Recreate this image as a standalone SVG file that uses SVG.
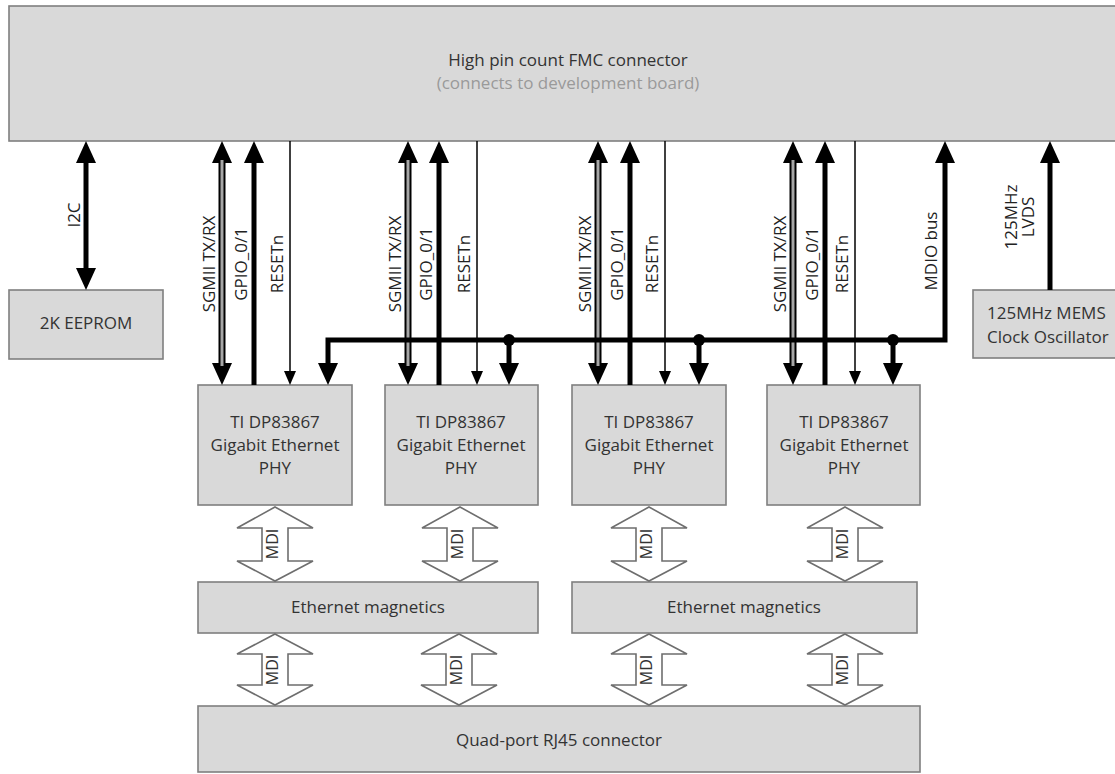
<svg xmlns="http://www.w3.org/2000/svg" width="1115" height="774" viewBox="0 0 1115 774">
  <style>
    .box { fill: #d9d9d9; stroke: #7f7f7f; stroke-width: 1.6; }
    .t { font-family: "Open Sans", "Liberation Sans", sans-serif; font-size: 17px; fill: #333; text-anchor: middle; }
    .sub { fill: #9a9a9a; }
    .start { text-anchor: start; }
    .lbl { font-family: "Open Sans", "Liberation Sans", sans-serif; font-size: 17px; fill: #222; text-anchor: middle; }
    .mdi { font-family: "Open Sans", "Liberation Sans", sans-serif; font-size: 16px; fill: #333; text-anchor: middle; }
    .thick { stroke: #000; stroke-width: 5; fill: none; }
    .bus { stroke: #000; stroke-width: 5; fill: none; stroke-linejoin: miter; }
    .dbl-out { stroke: #000; stroke-width: 7; fill: none; }
    .dbl-in { stroke: #a6a6a6; stroke-width: 3; fill: none; }
    .thin { stroke: #000; stroke-width: 1.5; fill: none; }
    .blk { fill: #fff; stroke: #6e6e6e; stroke-width: 1.6; }
  </style>
  <defs>
    <!-- heads are drawn from the line end outward (refX at the base) -->
    <marker id="head" viewBox="0 0 22 20" markerWidth="22" markerHeight="20" refX="0" refY="10" orient="auto-start-reverse" markerUnits="userSpaceOnUse">
      <path d="M0,0 L22,10 L0,20 Z" fill="#000"/>
    </marker>
    <marker id="head-s" viewBox="0 0 14 12" markerWidth="14" markerHeight="12" refX="0" refY="6" orient="auto" markerUnits="userSpaceOnUse">
      <path d="M0,0 L14,6 L0,12 Z" fill="#000"/>
    </marker>
  </defs>

  <!-- FMC connector -->
  <g id="fmc">
    <rect class="box" x="9" y="6" width="1120" height="135"/>
    <text class="t" x="568" y="66">High pin count FMC connector</text>
    <text class="t sub" x="568" y="89">(connects to development board)</text>
  </g>

  <g id="eeprom">
    <rect class="box" x="9" y="290" width="154" height="69"/>
    <text class="t" x="86" y="329">2K EEPROM</text>
  </g>

  <g id="oscillator">
    <rect class="box" x="973" y="290" width="170" height="68"/>
    <text class="t start" x="987" y="319">125MHz MEMS</text>
    <text class="t start" x="987" y="343">Clock Oscillator</text>
  </g>

  <g id="phy1">
    <rect class="box" x="198" y="385" width="154" height="120"/>
    <text class="t" x="275" y="428">TI DP83867</text>
    <text class="t" x="275" y="451">Gigabit Ethernet</text>
    <text class="t" x="275" y="474">PHY</text>
  </g>
  <g id="phy2">
    <rect class="box" x="385" y="385" width="153" height="120"/>
    <text class="t" x="461" y="428">TI DP83867</text>
    <text class="t" x="461" y="451">Gigabit Ethernet</text>
    <text class="t" x="461" y="474">PHY</text>
  </g>
  <g id="phy3">
    <rect class="box" x="572" y="385" width="154" height="120"/>
    <text class="t" x="649" y="428">TI DP83867</text>
    <text class="t" x="649" y="451">Gigabit Ethernet</text>
    <text class="t" x="649" y="474">PHY</text>
  </g>
  <g id="phy4">
    <rect class="box" x="767" y="385" width="153" height="120"/>
    <text class="t" x="844" y="428">TI DP83867</text>
    <text class="t" x="844" y="451">Gigabit Ethernet</text>
    <text class="t" x="844" y="474">PHY</text>
  </g>

  <g id="magnetics1">
    <rect class="box" x="198" y="582" width="340" height="51"/>
    <text class="t" x="368" y="613">Ethernet magnetics</text>
  </g>
  <g id="magnetics2">
    <rect class="box" x="572" y="582" width="345" height="51"/>
    <text class="t" x="744" y="613">Ethernet magnetics</text>
  </g>

  <g id="rj45">
    <rect class="box" x="198" y="706" width="722" height="66"/>
    <text class="t" x="559" y="746">Quad-port RJ45 connector</text>
  </g>

  <g id="connectors">
    <!-- I2C -->
    <line class="thick" x1="86" y1="163" x2="86" y2="268" marker-start="url(#head)" marker-end="url(#head)"/>
    <text class="lbl" x="80" y="215" transform="rotate(-90 80 215)">I2C</text>

    <!-- SGMII (double line) -->
    <g>
      <line class="dbl-out" x1="222" y1="163" x2="222" y2="363" marker-start="url(#head)" marker-end="url(#head)"/>
      <line class="dbl-in" x1="222" y1="160" x2="222" y2="366"/>
      <line class="dbl-out" x1="408" y1="163" x2="408" y2="363" marker-start="url(#head)" marker-end="url(#head)"/>
      <line class="dbl-in" x1="408" y1="160" x2="408" y2="366"/>
      <line class="dbl-out" x1="598" y1="163" x2="598" y2="363" marker-start="url(#head)" marker-end="url(#head)"/>
      <line class="dbl-in" x1="598" y1="160" x2="598" y2="366"/>
      <line class="dbl-out" x1="793" y1="163" x2="793" y2="363" marker-start="url(#head)" marker-end="url(#head)"/>
      <line class="dbl-in" x1="793" y1="160" x2="793" y2="366"/>
    </g>

    <!-- GPIO_0/1 -->
    <line class="thick" x1="254" y1="385" x2="254" y2="163" marker-end="url(#head)"/>
    <line class="thick" x1="439" y1="385" x2="439" y2="163" marker-end="url(#head)"/>
    <line class="thick" x1="630" y1="385" x2="630" y2="163" marker-end="url(#head)"/>
    <line class="thick" x1="825" y1="385" x2="825" y2="163" marker-end="url(#head)"/>

    <!-- RESETn -->
    <line class="thin" x1="290" y1="141" x2="290" y2="371" marker-end="url(#head-s)"/>
    <line class="thin" x1="477" y1="141" x2="477" y2="371" marker-end="url(#head-s)"/>
    <line class="thin" x1="665" y1="141" x2="665" y2="371" marker-end="url(#head-s)"/>
    <line class="thin" x1="855" y1="141" x2="855" y2="371" marker-end="url(#head-s)"/>

    <!-- MDIO bus -->
    <path class="bus" d="M328,363 L328,340 L945,340 L945,163" marker-start="url(#head)" marker-end="url(#head)"/>
    <line class="thick" x1="509" y1="340" x2="509" y2="363" marker-end="url(#head)"/>
    <line class="thick" x1="699" y1="340" x2="699" y2="363" marker-end="url(#head)"/>
    <line class="thick" x1="893" y1="340" x2="893" y2="363" marker-end="url(#head)"/>
    <circle cx="509" cy="340" r="6" fill="#000"/>
    <circle cx="699" cy="340" r="6" fill="#000"/>
    <circle cx="893" cy="340" r="6" fill="#000"/>

    <!-- 125MHz LVDS clock -->
    <line class="thick" x1="1050" y1="290" x2="1050" y2="163" marker-end="url(#head)"/>

    <!-- signal labels -->
    <text class="lbl" x="215" y="264" transform="rotate(-90 215 264)">SGMII TX/RX</text>
    <text class="lbl" x="247" y="264" transform="rotate(-90 247 264)">GPIO_0/1</text>
    <text class="lbl" x="283" y="264" transform="rotate(-90 283 264)">RESETn</text>
    <text class="lbl" x="401" y="264" transform="rotate(-90 401 264)">SGMII TX/RX</text>
    <text class="lbl" x="432" y="264" transform="rotate(-90 432 264)">GPIO_0/1</text>
    <text class="lbl" x="470" y="264" transform="rotate(-90 470 264)">RESETn</text>
    <text class="lbl" x="591" y="264" transform="rotate(-90 591 264)">SGMII TX/RX</text>
    <text class="lbl" x="623" y="264" transform="rotate(-90 623 264)">GPIO_0/1</text>
    <text class="lbl" x="658" y="264" transform="rotate(-90 658 264)">RESETn</text>
    <text class="lbl" x="786" y="264" transform="rotate(-90 786 264)">SGMII TX/RX</text>
    <text class="lbl" x="818" y="264" transform="rotate(-90 818 264)">GPIO_0/1</text>
    <text class="lbl" x="848" y="264" transform="rotate(-90 848 264)">RESETn</text>
    <text class="lbl" x="937" y="251" transform="rotate(-90 937 251)">MDIO bus</text>
    <text class="lbl" x="1017" y="217" transform="rotate(-90 1017 217)">125MHz</text>
    <text class="lbl" x="1034" y="217" transform="rotate(-90 1034 217)">LVDS</text>

    <!-- MDI block arrows: PHY to magnetics -->
    <path class="blk" d="M275,507 L313,528 L288,528 L288,561 L313,561 L275,581 L237,561 L262,561 L262,528 L237,528 Z"/>
    <path class="blk" d="M460,507 L498,528 L473,528 L473,561 L498,561 L460,581 L422,561 L447,561 L447,528 L422,528 Z"/>
    <path class="blk" d="M649,507 L687,528 L662,528 L662,561 L687,561 L649,581 L611,561 L636,561 L636,528 L611,528 Z"/>
    <path class="blk" d="M845,507 L883,528 L858,528 L858,561 L883,561 L845,581 L807,561 L832,561 L832,528 L807,528 Z"/>
    <!-- MDI block arrows: magnetics to RJ45 -->
    <path class="blk" d="M275,634 L313,654 L288,654 L288,685 L313,685 L275,705 L237,685 L262,685 L262,654 L237,654 Z"/>
    <path class="blk" d="M459,634 L497,654 L472,654 L472,685 L497,685 L459,705 L421,685 L446,685 L446,654 L421,654 Z"/>
    <path class="blk" d="M649,634 L687,654 L662,654 L662,685 L687,685 L649,705 L611,685 L636,685 L636,654 L611,654 Z"/>
    <path class="blk" d="M845,634 L883,654 L858,654 L858,685 L883,685 L845,705 L807,685 L832,685 L832,654 L807,654 Z"/>

    <text class="mdi" x="278" y="544" transform="rotate(-90 278 544)">MDI</text>
    <text class="mdi" x="463" y="544" transform="rotate(-90 463 544)">MDI</text>
    <text class="mdi" x="652" y="544" transform="rotate(-90 652 544)">MDI</text>
    <text class="mdi" x="848" y="544" transform="rotate(-90 848 544)">MDI</text>
    <text class="mdi" x="278" y="670" transform="rotate(-90 278 670)">MDI</text>
    <text class="mdi" x="462" y="670" transform="rotate(-90 462 670)">MDI</text>
    <text class="mdi" x="652" y="670" transform="rotate(-90 652 670)">MDI</text>
    <text class="mdi" x="848" y="670" transform="rotate(-90 848 670)">MDI</text>
  </g>
</svg>
